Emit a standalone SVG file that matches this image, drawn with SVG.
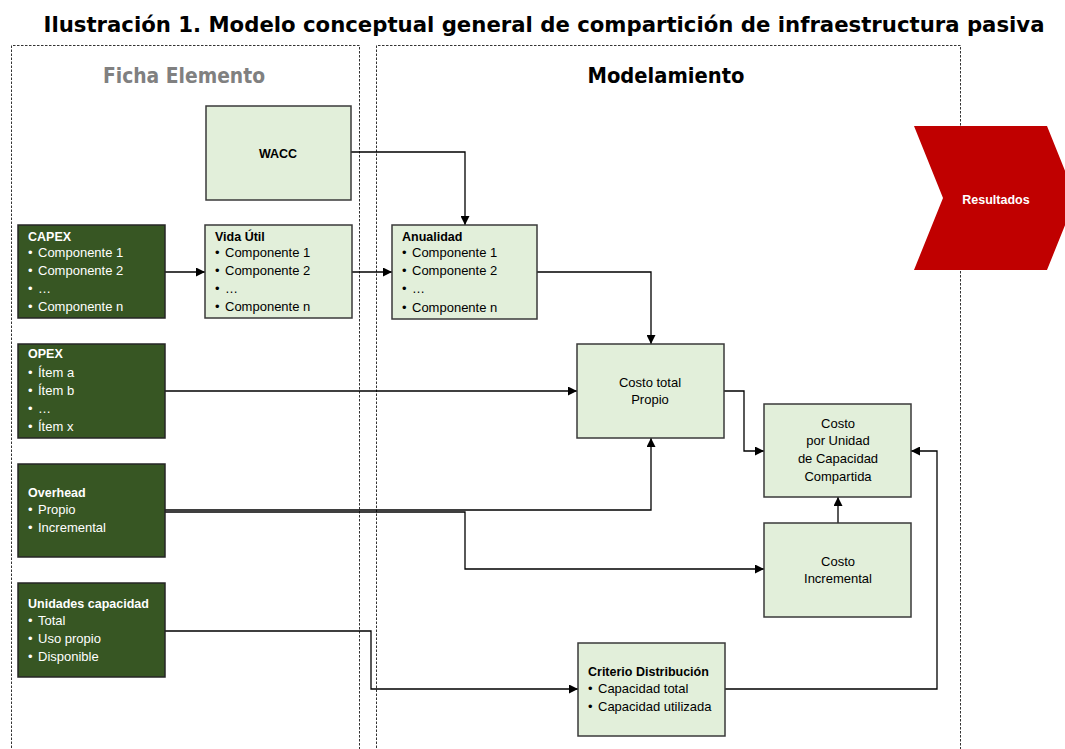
<svg xmlns="http://www.w3.org/2000/svg" width="1065" height="749" viewBox="0 0 1065 749">
<defs>
<style>
.panel{fill:none;stroke:#333;stroke-width:1;stroke-dasharray:2.5,1.5}
.dark{fill:#375623;stroke:#262626;stroke-width:1.5}
.light{fill:#e2efda;stroke:#3a3a3a;stroke-width:1.5}
.t{font-family:"Liberation Sans",Arial,sans-serif;font-size:13px}
.h{font-family:"Liberation Sans",Arial,sans-serif;font-size:12.5px;font-weight:bold}
.w{fill:#ffffff}
.k{fill:#000000}
.c{text-anchor:middle}
.conn{fill:none;stroke:#000;stroke-width:1.3}
.big{font-family:"DejaVu Sans",Verdana,sans-serif;font-weight:bold}
</style>
<marker id="arr" viewBox="0 0 10 10" refX="10" refY="5" markerWidth="9" markerHeight="9" markerUnits="userSpaceOnUse" orient="auto">
<path d="M0,0 L10,5 L0,10 z" fill="#000"/>
</marker>
</defs>
<rect width="1065" height="749" fill="#ffffff"/>
<text class="big" x="544" y="32" font-size="21.5" text-anchor="middle" textLength="1001" lengthAdjust="spacingAndGlyphs">Ilustración 1. Modelo conceptual general de compartición de infraestructura pasiva</text>
<g id="panels">
<path class="panel" d="M11.5,760 V45.5 H359.5 V760"/>
<path class="panel" d="M376.5,760 V45.5 H960.5 V760"/>
<text class="big" x="184" y="83" font-size="21" fill="#808080" text-anchor="middle" textLength="162" lengthAdjust="spacingAndGlyphs">Ficha Elemento</text>
<text class="big" x="666" y="83" font-size="21" fill="#000" text-anchor="middle" textLength="157" lengthAdjust="spacingAndGlyphs">Modelamiento</text>
</g>
<g id="connectors">
<path class="conn" d="M351,152 H465 V225" marker-end="url(#arr)"/>
<path class="conn" d="M165,272 H205" marker-end="url(#arr)"/>
<path class="conn" d="M352,272 H392" marker-end="url(#arr)"/>
<path class="conn" d="M537,272 H651 V344" marker-end="url(#arr)"/>
<path class="conn" d="M165,391 H577" marker-end="url(#arr)"/>
<path class="conn" d="M165,510 H651 V438" marker-end="url(#arr)"/>
<path class="conn" d="M165,512 H465 V569 H764" marker-end="url(#arr)"/>
<path class="conn" d="M724,391 H744 V451 H764" marker-end="url(#arr)"/>
<path class="conn" d="M838,523 V497" marker-end="url(#arr)"/>
<path class="conn" d="M165,631 H371 V689 H578" marker-end="url(#arr)"/>
<path class="conn" d="M725,689 H937 V451 H911" marker-end="url(#arr)"/>
</g>
<g id="wacc">
<rect class="light" x="206" y="106" width="145" height="94"/>
<text class="h k c" x="278" y="158">WACC</text>
</g>
<g id="capex">
<rect class="dark" x="18" y="225" width="147" height="93"/>
<text class="h w" x="28" y="241">CAPEX</text>
<text class="t w" x="28" y="257">•<tspan x="38">Componente 1</tspan></text>
<text class="t w" x="28" y="275">•<tspan x="38">Componente 2</tspan></text>
<text class="t w" x="28" y="293">•<tspan x="38">…</tspan></text>
<text class="t w" x="28" y="311">•<tspan x="38">Componente n</tspan></text>
</g>
<g id="vida-util">
<rect class="light" x="205" y="225" width="147" height="93"/>
<text class="h k" x="215" y="241">Vida Útil</text>
<text class="t k" x="215" y="257">•<tspan x="225">Componente 1</tspan></text>
<text class="t k" x="215" y="275">•<tspan x="225">Componente 2</tspan></text>
<text class="t k" x="215" y="293">•<tspan x="225">…</tspan></text>
<text class="t k" x="215" y="311">•<tspan x="225">Componente n</tspan></text>
</g>
<g id="anualidad">
<rect class="light" x="392" y="225" width="145" height="94"/>
<text class="h k" x="402" y="241">Anualidad</text>
<text class="t k" x="402" y="257">•<tspan x="412">Componente 1</tspan></text>
<text class="t k" x="402" y="275">•<tspan x="412">Componente 2</tspan></text>
<text class="t k" x="402" y="293">•<tspan x="412">…</tspan></text>
<text class="t k" x="402" y="312">•<tspan x="412">Componente n</tspan></text>
</g>
<g id="opex">
<rect class="dark" x="18" y="344" width="147" height="94"/>
<text class="h w" x="28" y="358">OPEX</text>
<text class="t w" x="28" y="377">•<tspan x="38">Ítem a</tspan></text>
<text class="t w" x="28" y="395">•<tspan x="38">Ítem b</tspan></text>
<text class="t w" x="28" y="413">•<tspan x="38">…</tspan></text>
<text class="t w" x="28" y="431">•<tspan x="38">Ítem x</tspan></text>
</g>
<g id="overhead">
<rect class="dark" x="18" y="464" width="147" height="93"/>
<text class="h w" x="28" y="497">Overhead</text>
<text class="t w" x="28" y="514">•<tspan x="38">Propio</tspan></text>
<text class="t w" x="28" y="532">•<tspan x="38">Incremental</tspan></text>
</g>
<g id="unidades">
<rect class="dark" x="18" y="583" width="147" height="94"/>
<text class="h w" x="28" y="608">Unidades capacidad</text>
<text class="t w" x="28" y="625">•<tspan x="38">Total</tspan></text>
<text class="t w" x="28" y="643">•<tspan x="38">Uso propio</tspan></text>
<text class="t w" x="28" y="661">•<tspan x="38">Disponible</tspan></text>
</g>
<g id="costo-total">
<rect class="light" x="577" y="344" width="147" height="94"/>
<text class="t k c" x="650" y="387">Costo total</text>
<text class="t k c" x="650" y="404">Propio</text>
</g>
<g id="costo-unidad">
<rect class="light" x="764" y="404" width="147" height="93"/>
<text class="t k c" x="838" y="428">Costo</text>
<text class="t k c" x="838" y="445">por Unidad</text>
<text class="t k c" x="838" y="463">de Capacidad</text>
<text class="t k c" x="838" y="481">Compartida</text>
</g>
<g id="costo-incremental">
<rect class="light" x="764" y="523" width="147" height="94"/>
<text class="t k c" x="838" y="566">Costo</text>
<text class="t k c" x="838" y="583">Incremental</text>
</g>
<g id="criterio">
<rect class="light" x="578" y="643" width="147" height="93"/>
<text class="h k" x="588" y="676">Criterio Distribución</text>
<text class="t k" x="588" y="693">•<tspan x="598">Capacidad total</tspan></text>
<text class="t k" x="588" y="711">•<tspan x="598">Capacidad utilizada</tspan></text>
</g>
<g id="resultados">
<polygon points="914,126 1047,126 1076,198 1047,270 914,270 943,198" fill="#c00000"/>
<text class="h w c" x="996" y="204" font-size="15">Resultados</text>
</g>
</svg>
